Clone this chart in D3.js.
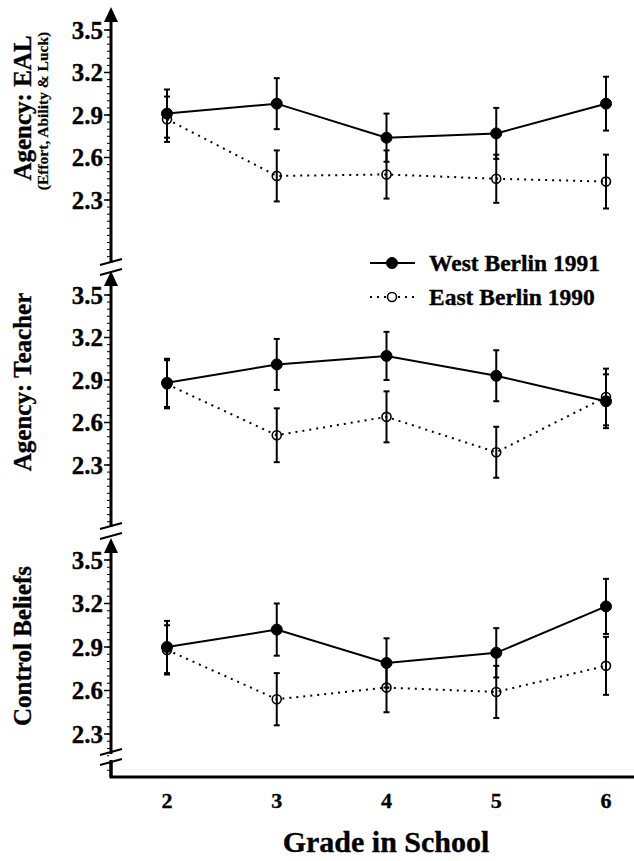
<!DOCTYPE html>
<html>
<head>
<meta charset="utf-8">
<title>Agency and control beliefs by grade</title>
<script src="https://d3js.org/d3.v7.min.js"></script>
<style>
  body { margin: 0; background: #fff; overflow: hidden; }
  svg text { font-family: "Liberation Serif", "Times New Roman", serif; font-weight: bold; fill: #000; stroke: #000; stroke-width: 0.35px; }
</style>
</head>
<body>
<script>
// grades on the x axis
const grades = [2, 3, 4, 5, 6];
const yTicks = [2.3, 2.6, 2.9, 3.2, 3.5];

// means and error bars
const ealWest = [2.91, 2.98, 2.74, 2.77, 2.98];
const ealWestErr = [0.17, 0.18, 0.17, 0.18, 0.19];
const ealEast = [2.87, 2.47, 2.48, 2.45, 2.43];
const ealEastErr = [0.16, 0.18, 0.17, 0.17, 0.19];

const teacherWest = [2.88, 3.01, 3.07, 2.93, 2.75];
const teacherWestErr = [0.17, 0.18, 0.17, 0.18, 0.19];
const teacherEast = [2.87, 2.51, 2.64, 2.39, 2.78];
const teacherEastErr = [0.17, 0.19, 0.18, 0.18, 0.2];

const controlWest = [2.90, 3.02, 2.79, 2.86, 3.18];
const controlWestErr = [0.18, 0.18, 0.17, 0.17, 0.19];
const controlEast = [2.88, 2.54, 2.62, 2.59, 2.77];
const controlEastErr = [0.17, 0.18, 0.17, 0.18, 0.2];

const seriesNames = ["West Berlin 1991", "East Berlin 1990"];

const W = 634, H = 861;
const axisX = 111;

// layout of the three stacked panels (pixel rows for 3.5 and 2.3)
const panels = [
  {title: "Agency: EAL", sub: "(Effort, Ability & Luck)", y35: 30, y23: 200, tip: 7, bottom: 263,
   west: ealWest, westErr: ealWestErr, east: ealEast, eastErr: ealEastErr, titleY: 108},
  {title: "Agency: Teacher", y35: 295, y23: 465, tip: 271, bottom: 527,
   west: teacherWest, westErr: teacherWestErr, east: teacherEast, eastErr: teacherEastErr, titleY: 382},
  {title: "Control Beliefs", y35: 560, y23: 734, tip: 538, bottom: 777,
   west: controlWest, westErr: controlWestErr, east: controlEast, eastErr: controlEastErr, titleY: 646}
];
const breaks = [262, 272, 526, 536, 752, 762];
const xAxisY = 777;

const svg = d3.select("body").append("svg")
  .attr("width", W).attr("height", H);

const x = d3.scaleLinear().domain([2, 6]).range([167, 606]);

panels.forEach((p, pi) => {
  const y = d3.scaleLinear().domain([2.3, 3.5]).range([p.y23, p.y35]);
  const g = svg.append("g");

  // axis line
  g.append("line")
    .attr("x1", axisX).attr("x2", axisX)
    .attr("y1", p.tip + 10).attr("y2", p.bottom)
    .attr("stroke", "#000").attr("stroke-width", 3);
  // arrow head
  g.append("path")
    .attr("d", `M${axisX},${p.tip} L${axisX - 7},${p.tip + 15} L${axisX + 7},${p.tip + 15} Z`)
    .attr("fill", "#000");

  // minor ticks
  const lo = y.invert(p.bottom - 2), hi = 3.55;
  const minor = d3.range(Math.ceil(lo * 20) / 20, hi, 0.05);
  g.selectAll(".minor").data(minor).enter().append("line")
    .attr("x1", axisX - 4).attr("x2", axisX)
    .attr("y1", d => y(d)).attr("y2", d => y(d))
    .attr("stroke", "#000").attr("stroke-width", 1);

  // major ticks + labels
  g.selectAll(".major").data(yTicks).enter().append("line")
    .attr("x1", axisX - 7).attr("x2", axisX)
    .attr("y1", d => y(d)).attr("y2", d => y(d))
    .attr("stroke", "#000").attr("stroke-width", 1.5);
  g.selectAll(".tl").data(yTicks).enter().append("text")
    .attr("x", axisX - 8).attr("y", d => y(d))
    .attr("dy", "0.34em")
    .attr("text-anchor", "end")
    .attr("font-size", 25)
    .text(d => d.toFixed(1));

  // panel titles
  g.append("text")
    .attr("transform", `translate(31,${p.titleY}) rotate(-90)`)
    .attr("text-anchor", "middle")
    .attr("font-size", 25)
    .text(p.title);
  if (p.sub) {
    g.append("text")
      .attr("transform", `translate(48,${p.titleY + 3}) rotate(-90)`)
      .attr("text-anchor", "middle")
      .attr("font-size", 15.5)
      .style("stroke-width", "0.2px")
      .text(p.sub);
  }

  const series = [
    {vals: p.east, err: p.eastErr, filled: false},
    {vals: p.west, err: p.westErr, filled: true}
  ];

  series.forEach(s => {
    const pts = grades.map((gr, i) => ({g: gr, v: s.vals[i], e: s.err[i]}));
    // connecting line
    g.append("path")
      .datum(pts)
      .attr("fill", "none")
      .attr("stroke", "#000")
      .attr("stroke-width", 2)
      .attr("stroke-dasharray", s.filled ? null : "2,5")
      .attr("d", d3.line().x(d => x(d.g)).y(d => y(d.v)));
    // error bars
    const eb = g.selectAll(null).data(pts).enter().append("g");
    eb.append("line")
      .attr("x1", d => x(d.g)).attr("x2", d => x(d.g))
      .attr("y1", d => y(d.v + d.e)).attr("y2", d => y(d.v - d.e))
      .attr("stroke", "#000").attr("stroke-width", 2);
    [1, -1].forEach(sg => {
      eb.append("line")
        .attr("x1", d => x(d.g) - 3).attr("x2", d => x(d.g) + 3)
        .attr("y1", d => y(d.v + sg * d.e)).attr("y2", d => y(d.v + sg * d.e))
        .attr("stroke", "#000").attr("stroke-width", 2);
    });
  });

  series.forEach(s => {
    g.selectAll(null).data(grades.map((gr, i) => ({g: gr, v: s.vals[i]})))
      .enter().append("circle")
      .attr("cx", d => x(d.g)).attr("cy", d => y(d.v))
      .attr("r", s.filled ? 5.5 : 4.5)
      .attr("fill", s.filled ? "#000" : "none")
      .attr("stroke", "#000")
      .attr("stroke-width", s.filled ? 1 : 1.6);
  });
});

// break marks on the y axis
svg.selectAll(".brk").data(breaks).enter().append("line")
  .attr("x1", axisX - 11).attr("y1", d => d + 3)
  .attr("x2", axisX + 11).attr("y2", d => d - 3)
  .attr("stroke", "#000").attr("stroke-width", 2);
// white out the gaps between break pairs
for (let i = 0; i < breaks.length; i += 2) {
  svg.append("rect")
    .attr("x", axisX - 2).attr("width", 4)
    .attr("y", breaks[i] + 2).attr("height", breaks[i + 1] - breaks[i] - 4)
    .attr("fill", "#fff");
}
// bottom stub of the y axis
svg.append("line")
  .attr("x1", axisX).attr("x2", axisX)
  .attr("y1", breaks[5]).attr("y2", xAxisY)
  .attr("stroke", "#000").attr("stroke-width", 3);

// x axis
const xAxis = svg.append("g").attr("transform", `translate(0,${xAxisY})`);
xAxis.append("line")
  .attr("x1", axisX - 1.5).attr("x2", W)
  .attr("stroke", "#000").attr("stroke-width", 3);
xAxis.selectAll("text").data(grades).enter().append("text")
  .attr("x", d => x(d)).attr("y", 31)
  .attr("text-anchor", "middle")
  .attr("font-size", 22)
  .text(d => d);

svg.append("text")
  .attr("x", 386).attr("y", 852)
  .attr("text-anchor", "middle")
  .attr("font-size", 30)
  .text("Grade in School");

// legend
const legend = svg.append("g");
const legY = [263, 297];
seriesNames.forEach((name, i) => {
  legend.append("line")
    .attr("x1", 370).attr("x2", 415)
    .attr("y1", legY[i]).attr("y2", legY[i])
    .attr("stroke", "#000").attr("stroke-width", 2)
    .attr("stroke-dasharray", i === 0 ? null : "2,5");
  legend.append("circle")
    .attr("cx", 392).attr("cy", legY[i])
    .attr("r", i === 0 ? 5.5 : 4.5)
    .attr("fill", i === 0 ? "#000" : "#fff")
    .attr("stroke", "#000").attr("stroke-width", i === 0 ? 1 : 1.6);
  legend.append("text")
    .attr("x", 429).attr("y", legY[i])
    .attr("dy", "0.34em")
    .attr("font-size", 23.5)
    .text(name);
});
</script>
</body>
</html>
